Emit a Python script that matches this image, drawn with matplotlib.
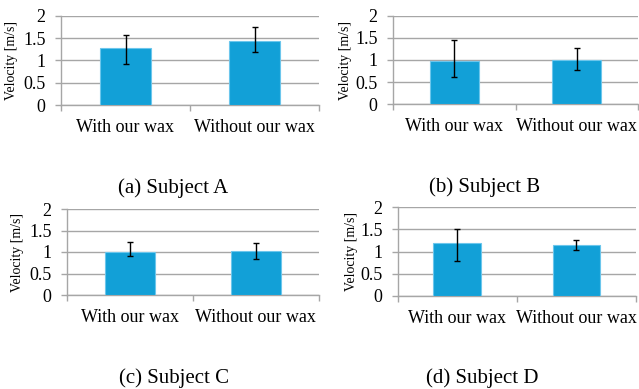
import matplotlib
matplotlib.use("Agg")
import matplotlib.pyplot as plt

categories = ["With our wax", "Without our wax"]
subjects = ["(a) Subject A", "(b) Subject B", "(c) Subject C", "(d) Subject D"]
means = [
    [1.27, 1.43],
    [0.98, 1.00],
    [1.00, 1.02],
    [1.19, 1.15],
]
err_low = [
    [0.91, 1.18],
    [0.62, 0.77],
    [0.90, 0.83],
    [0.79, 1.03],
]
err_high = [
    [1.57, 1.74],
    [1.45, 1.26],
    [1.24, 1.22],
    [1.50, 1.26],
]
yticks = [0, 0.5, 1, 1.5, 2]
ytick_labels = ["0", "0.5", "1", "1.5", "2"]

W, H = 639, 389
fig = plt.figure(figsize=(W / 100, H / 100), dpi=100)
plt.rcParams['font.family'] = ['Liberation Serif', 'DejaVu Serif']

# pixel boxes: left, right, top, bottom
boxes = [
    (61, 319, 15.7, 105),
    (393, 638, 15.7, 104.3),
    (66.7, 319, 209, 295),
    (397.7, 636, 207.3, 295.7),
]
captions_xy = [(173, 188), (485, 187), (174, 378), (482, 378)]
ylabel_right = [18, 352, 24, 358]

bar_color = "#12A0D7"
edge_color = "#6CC6EC"
grid_color = "#A6A6A6"

for i in range(4):
    l, r, t, b = boxes[i]
    ax = fig.add_axes([l / W, 1 - b / H, (r - l) / W, (b - t) / H])
    x = [0, 1]
    yerr = [[means[i][j] - err_low[i][j] for j in range(2)],
            [err_high[i][j] - means[i][j] for j in range(2)]]
    ax.bar(x, means[i], width=0.4, color=bar_color, edgecolor=edge_color,
           linewidth=0.8, zorder=3)
    ax.errorbar(x, means[i], yerr=yerr, fmt="none", ecolor="black",
                elinewidth=1.0, capsize=2.5, capthick=1.0, zorder=4)
    ax.set_xlim(-0.5, 1.5)
    ax.set_ylim(0, 2)
    ax.set_yticks(yticks)
    ax.set_yticklabels(ytick_labels, fontsize=13)
    ax.yaxis.grid(True, color=grid_color, linewidth=1.0, zorder=0)
    ax.set_axisbelow(True)
    # x ticks at category boundaries
    ax.set_xticks([-0.5, 0.5, 1.5])
    ax.set_xticklabels([])
    ax.set_xticks([0, 1], minor=True)
    ax.set_xticklabels(categories, minor=True, fontsize=13)
    ax.tick_params(axis="x", which="major", direction="out", length=4,
                   color=grid_color, width=1.0)
    ax.tick_params(axis="x", which="minor", length=0, pad=10)
    ax.tick_params(axis="y", direction="out", length=4, color=grid_color,
                   width=1.0, pad=7)
    for s in ["top", "right"]:
        ax.spines[s].set_visible(False)
    ax.spines["left"].set_color(grid_color)
    ax.spines["bottom"].set_color(grid_color)
    ax.spines["left"].set_linewidth(1.0)
    ax.spines["bottom"].set_linewidth(1.0)
    ax.set_ylabel("Velocity [m/s]", fontsize=10)
    ax.yaxis.set_label_coords((ylabel_right[i] - l) / (r - l), 0.5)
    cx, cy = captions_xy[i]
    fig.text(cx / W, 1 - cy / H, subjects[i], ha="center", va="center",
             fontsize=15)

fig.savefig("out.png", dpi=100)
